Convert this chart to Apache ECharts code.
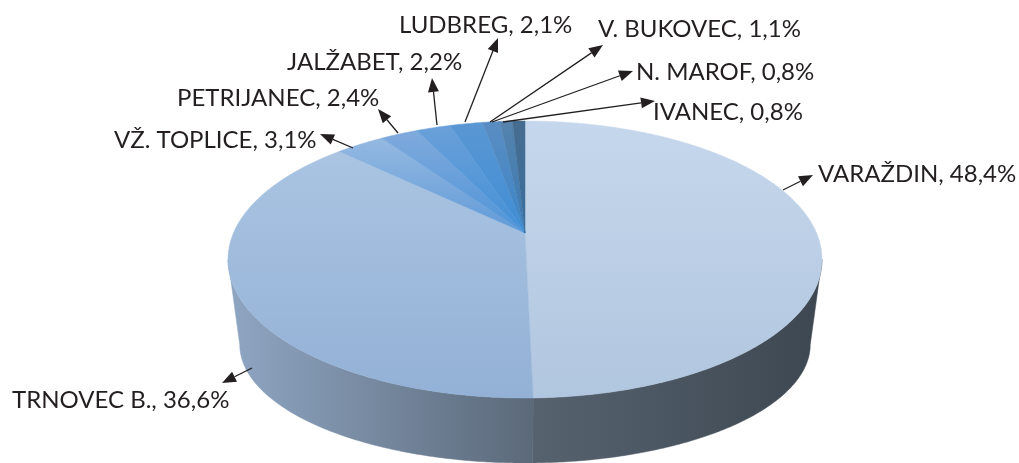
<!DOCTYPE html>
<html>
<head>
<meta charset="utf-8">
<script src="https://cdn.jsdelivr.net/npm/echarts@6/dist/echarts.min.js"></script>
<style>
  html, body { margin: 0; background: #fff; }
  #chart { width: 1019px; height: 463px; }
</style>
</head>
<body>
<div id="chart"></div>
<script>
// data
const towns = ["VARAŽDIN", "TRNOVEC B.", "VŽ. TOPLICE", "PETRIJANEC", "JALŽABET", "LUDBREG", "V. BUKOVEC", "N. MAROF", "IVANEC"];
const shares = [48.4, 36.6, 3.1, 2.4, 2.2, 2.1, 1.1, 0.8, 0.8];

// look of the tilted pie
const topColors = ["#c5d7ec", "#aac4e2", "#95b9e1", "#80aadc", "#6aa0d9", "#5a97d3", "#5a8dc2", "#5583ad", "#466d90"];
const apexColors = ["#b1c6df", "#93b1d6", "#5f9ad8", "#4e94d8", "#4390d7", "#3f8dd5", "#3c85c8", "#3a7bb5", "#3a6f9e"];
const wallColors = [["#56636f", "#3d4751"], ["#8fa6c3", "#5b6979"]];

// label text position [x, y], arrow tail [x, y], arrow tip [x, y]
const labelPos = [
  [818, 174, 783, 190, 813, 175],
  [12, 400, 252, 368, 222, 383],
  [114, 140, 353, 148, 320, 134],
  [177, 98, 398, 133, 378, 109],
  [287, 62, 437, 125, 432, 78],
  [399, 25, 465, 122, 498, 38],
  [598, 29, 490, 122, 603, 45],
  [636, 72, 492, 122, 633, 71],
  [653, 112, 503, 122, 655, 101]
];

const total = shares.reduce((s, v) => s + v, 0);
let acc = 0;
const slices = shares.map(v => {
  const a1 = acc / total * 360;
  acc += v;
  return [a1, acc / total * 360];
});

// perspective projection of the top and the bottom rim
const cx = 525, cy = 233, persp = 0.1913;
// the side is seen between these two angles
const sideFrom = 90 + Math.asin(persp) * 180 / Math.PI, sideTo = 360 - sideFrom;
function rimTop(phi) {
  const r = phi * Math.PI / 180, X = Math.sin(r), Z = Math.cos(r), d = 1 + persp * Z;
  return [cx + 291.5 * X / d, (cy - 88.85 * Z) / d];
}
function rimBottom(phi) {
  const r = phi * Math.PI / 180, X = Math.sin(r), Z = Math.cos(r), d = 1 + persp * Z;
  return [cx + 280 * X / d, (321.8 - 52.6 * Z) / d];
}
function arc(f, a1, a2) {
  const n = Math.max(2, Math.ceil(Math.abs(a2 - a1) * 2));
  const pts = [];
  for (let i = 0; i <= n; i++) pts.push(f(a1 + (a2 - a1) * i / n));
  return pts;
}
function grad(c1, c2, horiz) {
  return {
    type: "linear", x: 0, y: 0, x2: horiz ? 1 : 0, y2: horiz ? 0 : 1,
    colorStops: [{ offset: 0, color: c1 }, { offset: 1, color: c2 }]
  };
}

let chart = echarts.init(document.getElementById("chart"));
chart.setOption({
  backgroundColor: "#fff",
  animation: false,
  series: [
    {
      // side wall
      type: "custom",
      coordinateSystem: "none",
      silent: true,
      z: 1,
      data: slices,
      renderItem: function (params, api) {
        const a1 = Math.max(api.value(0), sideFrom), a2 = Math.min(api.value(1), sideTo);
        if (a1 >= a2) return { type: "group", children: [] };
        const c = wallColors[params.dataIndex] || wallColors[0];
        const fill = grad(c[0], c[1], true);
        return {
          type: "polygon",
          shape: { points: arc(rimTop, a1, a2).concat(arc(rimBottom, a2, a1)) },
          style: { fill: fill, stroke: fill, lineWidth: 0.5 }
        };
      }
    },
    {
      // top face
      type: "custom",
      coordinateSystem: "none",
      silent: true,
      z: 2,
      data: slices,
      renderItem: function (params, api) {
        const i = params.dataIndex;
        const fill = grad(topColors[i], apexColors[i], false);
        return {
          type: "polygon",
          shape: { points: [[cx, cy]].concat(arc(rimTop, api.value(0), api.value(1))) },
          style: { fill: fill, stroke: fill, lineWidth: 0.5 }
        };
      }
    },
    {
      // labels with arrows
      type: "custom",
      coordinateSystem: "none",
      silent: true,
      z: 3,
      data: shares.map((v, i) => [i, v]),
      renderItem: function (params, api) {
        const i = api.value(0);
        const p = labelPos[i];
        const dx = p[4] - p[2], dy = p[5] - p[3], len = Math.hypot(dx, dy);
        const ux = dx / len, uy = dy / len;
        const bx = p[4] - ux * 14, by = p[5] - uy * 14;
        return {
          type: "group",
          children: [
            {
              type: "line",
              shape: { x1: p[2], y1: p[3], x2: bx, y2: by },
              style: { stroke: "#231f20", lineWidth: 1.3 }
            },
            {
              type: "polygon",
              shape: { points: [[p[4], p[5]], [bx - uy * 5.5, by + ux * 5.5], [bx + uy * 5.5, by - ux * 5.5]] },
              style: { fill: "#231f20" }
            },
            {
              type: "text",
              style: {
                x: p[0], y: p[1],
                text: towns[i] + ", " + String(api.value(1)).replace(".", ",") + "%",
                fill: "#231f20",
                fontSize: 24,
                fontFamily: "Lato",
                align: "left",
                verticalAlign: "middle"
              }
            }
          ]
        };
      }
    }
  ]
});
</script>
</body>
</html>
